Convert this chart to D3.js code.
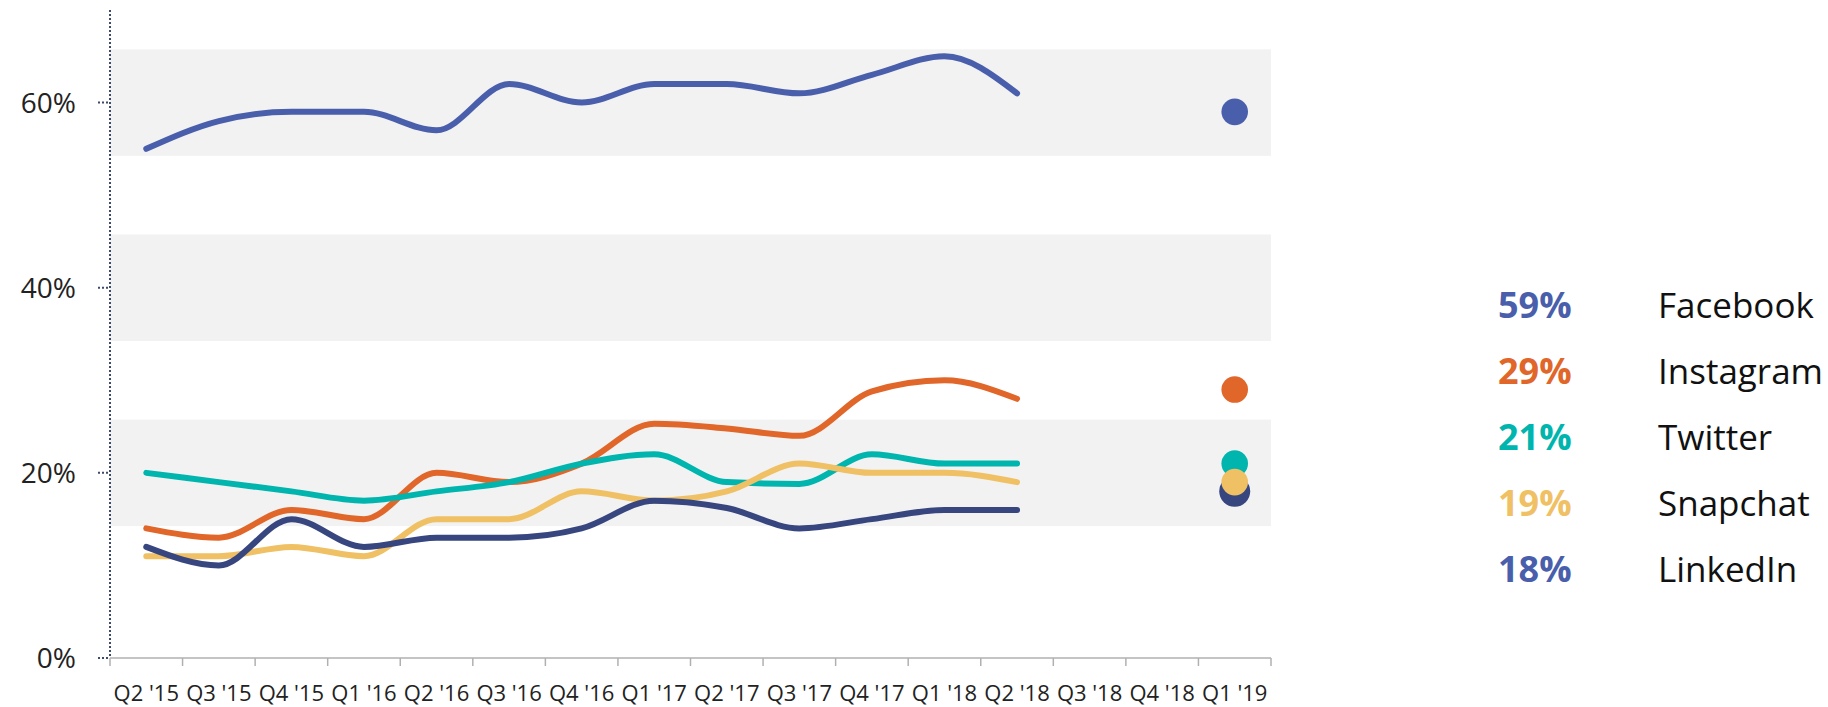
<!DOCTYPE html>
<html>
<head>
<meta charset="utf-8">
<script src="https://cdn.jsdelivr.net/npm/d3@7"></script>
<style>
  html, body { margin: 0; padding: 0; background: #fff; }
  svg { display: block; font-family: "Open Sans", "Noto Sans", sans-serif; }
</style>
</head>
<body>
<svg id="chart" width="1828" height="707"></svg>
<script>
// quarters on the x axis
const quarters = ["Q2 '15", "Q3 '15", "Q4 '15", "Q1 '16", "Q2 '16", "Q3 '16", "Q4 '16",
  "Q1 '17", "Q2 '17", "Q3 '17", "Q4 '17", "Q1 '18", "Q2 '18", "Q3 '18", "Q4 '18", "Q1 '19"];

// share of users, Q2 '15 .. Q2 '18
const facebook  = [55, 58, 59, 59, 57, 62, 60, 62, 62, 61, 63, 65, 61];
const instagram = [14, 13, 16, 15, 20, 19, 21, 25.3, 24.8, 24, 28.8, 30, 28];
const twitter   = [20, 19, 18, 17, 18, 19, 21, 22, 19, 18.8, 22, 21, 21];
const snapchat  = [11, 11, 12, 11, 15, 15, 18, 17, 18, 21, 20, 20, 19];
const linkedin  = [12, 10, 15, 12, 13, 13, 14, 17, 16.2, 14, 15, 16, 16];

// latest reading (Q1 '19) shown as dots + legend
const names  = ["Facebook", "Instagram", "Twitter", "Snapchat", "LinkedIn"];
const latest = [59, 29, 21, 19, 18];
const colors = ["#4a5fab", "#e0662a", "#00b5ad", "#f0c064", "#37467f"];
const legendColors = ["#4a5fab", "#e0662a", "#00b5ad", "#f0c064", "#4a5fab"];

const yTicks = [0, 20, 40, 60];
const bands = [[14.25, 25.75], [34.25, 45.75], [54.25, 65.75]];

const series = [facebook, instagram, twitter, snapchat, linkedin];

const svg = d3.select('#chart');
const plotLeft = 110, plotRight = 1271, plotBottom = 658, plotTop = 10;

const x = d3.scaleBand().domain(quarters).range([plotLeft, plotRight]).padding(0);
const y = d3.scaleLinear().domain([0, 70]).range([plotBottom, plotTop]);
const cx = q => x(q) + x.bandwidth() / 2;

// grey bands
svg.append('g')
  .selectAll('rect')
  .data(bands)
  .join('rect')
  .attr('x', plotLeft)
  .attr('width', plotRight - plotLeft)
  .attr('y', d => y(d[1]))
  .attr('height', d => y(d[0]) - y(d[1]))
  .attr('fill', '#f2f2f2');

// x axis
const xAxis = svg.append('g').attr('transform', `translate(0,${plotBottom})`);
xAxis.append('line')
  .attr('x1', plotLeft).attr('x2', plotRight)
  .attr('stroke', '#b0b0b0').attr('stroke-width', 1.5);
xAxis.selectAll('line.tick')
  .data(d3.range(quarters.length + 1))
  .join('line')
  .attr('class', 'tick')
  .attr('x1', i => plotLeft + i * x.bandwidth())
  .attr('x2', i => plotLeft + i * x.bandwidth())
  .attr('y1', 0).attr('y2', 8)
  .attr('stroke', '#b0b0b0').attr('stroke-width', 1.5);
xAxis.selectAll('text')
  .data(quarters)
  .join('text')
  .attr('x', d => cx(d))
  .attr('y', 43)
  .attr('text-anchor', 'middle')
  .attr('font-size', 22)
  .attr('fill', '#222')
  .text(d => d);

// y axis (dotted)
svg.append('line')
  .attr('x1', plotLeft).attr('x2', plotLeft)
  .attr('y1', plotTop).attr('y2', plotBottom)
  .attr('stroke', '#3d4b6b').attr('stroke-width', 2)
  .attr('stroke-dasharray', '2,2');
const yAxis = svg.append('g');
yAxis.selectAll('line')
  .data(yTicks)
  .join('line')
  .attr('x1', plotLeft - 12).attr('x2', plotLeft)
  .attr('y1', d => y(d)).attr('y2', d => y(d))
  .attr('stroke', '#3d4b6b').attr('stroke-width', 2)
  .attr('stroke-dasharray', '2,2');
yAxis.selectAll('text')
  .data(yTicks)
  .join('text')
  .attr('x', 76)
  .attr('y', d => y(d))
  .attr('dy', '0.36em')
  .attr('text-anchor', 'end')
  .attr('font-size', 28)
  .attr('fill', '#222')
  .text(d => d + '%');

// lines
const line = d3.line()
  .x((d, i) => cx(quarters[i]))
  .y(d => y(d))
  .curve(d3.curveMonotoneX);

svg.append('g')
  .selectAll('path')
  .data(series)
  .join('path')
  .attr('d', d => line(d))
  .attr('fill', 'none')
  .attr('stroke', (d, i) => colors[i])
  .attr('stroke-width', 6)
  .attr('stroke-linecap', 'round')
  .attr('stroke-linejoin', 'round');

// latest dots - yellow drawn last so it sits over navy
const dotOrder = [0, 1, 2, 4, 3];
const lastQ = quarters[quarters.length - 1];
svg.append('g')
  .selectAll('circle')
  .data(dotOrder)
  .join('circle')
  .attr('cx', cx(lastQ))
  .attr('cy', i => y(latest[i]))
  .attr('r', i => i === 4 ? 15.5 : 13.3)
  .attr('fill', i => colors[i]);

// legend
const legend = svg.append('g');
legend.selectAll('text.val')
  .data(names)
  .join('text')
  .attr('class', 'val')
  .attr('x', 1498)
  .attr('y', (d, i) => 318 + i * 66)
  .attr('font-size', 36)
  .attr('font-weight', 'bold')
  .attr('fill', (d, i) => legendColors[i])
  .text((d, i) => latest[i] + '%');
legend.selectAll('text.name')
  .data(names)
  .join('text')
  .attr('class', 'name')
  .attr('x', 1658)
  .attr('y', (d, i) => 318 + i * 66)
  .attr('font-size', 35)
  .attr('fill', '#111')
  .text(d => d);
</script>
</body>
</html>
